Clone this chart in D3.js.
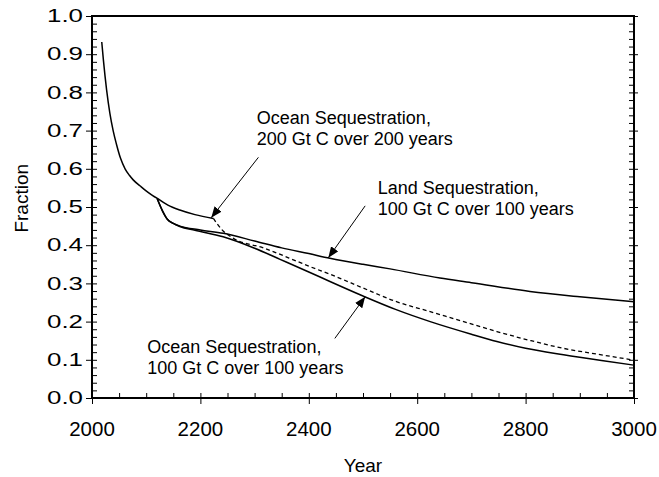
<!DOCTYPE html>
<html>
<head>
<meta charset="utf-8">
<script src="https://cdn.jsdelivr.net/npm/d3@7"></script>
<style>
  html, body { margin: 0; padding: 0; background: #fff; }
  svg { display: block; font-family: "Liberation Sans", Arial, Helvetica, sans-serif; }
</style>
</head>
<body>
<svg id="chart" width="659" height="477"></svg>
<script>
// Shared decline before sequestration branches off
const commonYears = [2018, 2021, 2027, 2033, 2039, 2045, 2053, 2061, 2069, 2076, 2089, 2101, 2112, 2120];
const commonFrac  = [0.932, 0.885, 0.806, 0.745, 0.700, 0.665, 0.626, 0.600, 0.583, 0.571, 0.555, 0.541, 0.530, 0.523];

// Land sequestration, 100 Gt C over 100 years
const landYears = [2120, 2130, 2139, 2150, 2162, 2200, 2242, 2300, 2350, 2400, 2439, 2500, 2550, 2642, 2700, 2808, 2900, 3000];
const landFrac  = [0.523, 0.490, 0.468, 0.457, 0.450, 0.440, 0.431, 0.411, 0.393, 0.378, 0.366, 0.350, 0.338, 0.314, 0.302, 0.279, 0.265, 0.252];

// Ocean sequestration, 100 Gt C over 100 years
const ocean100Years = [2120, 2130, 2139, 2150, 2162, 2190, 2242, 2300, 2347, 2400, 2439, 2500, 2560, 2624, 2700, 2747, 2800, 2870, 2940, 3000];
const ocean100Frac  = [0.523, 0.490, 0.468, 0.457, 0.449, 0.439, 0.422, 0.392, 0.363, 0.330, 0.305, 0.267, 0.232, 0.200, 0.167, 0.148, 0.130, 0.113, 0.098, 0.086];

// Ocean sequestration, 200 Gt C over 200 years (dashed once injection ends)
const ocean200Years = [2120, 2140, 2162, 2190, 2224, 2240, 2261, 2316, 2378, 2402, 2439, 2500, 2560, 2624, 2690, 2747, 2810, 2870, 2940, 3000];
const ocean200Frac  = [0.523, 0.505, 0.492, 0.480, 0.470, 0.440, 0.418, 0.393, 0.358, 0.344, 0.324, 0.288, 0.253, 0.226, 0.198, 0.174, 0.150, 0.130, 0.113, 0.099];
const ocean200DashFrom = 2224;

// Axis ticks
const xTicks = [2000, 2200, 2400, 2600, 2800, 3000];
const yTicks = [0.0, 0.1, 0.2, 0.3, 0.4, 0.5, 0.6, 0.7, 0.8, 0.9, 1.0];

// Annotations: label lines, label anchor, arrow tail and arrow tip (data units)
const notes = [
  { lines: ["Ocean Sequestration,", "200 Gt C over 200 years"], at: [2304, 0.716], tail: [2307, 0.630], tip: [2220, 0.472] },
  { lines: ["Land Sequestration,", "100 Gt C over 100 years"],  at: [2527, 0.534], tail: [2504, 0.503], tip: [2436, 0.367] },
  { lines: ["Ocean Sequestration,", "100 Gt C over 100 years"], at: [2102, 0.118], tail: [2448, 0.156], tip: [2504, 0.265] }
];

const svg = d3.select("#chart");
const x = d3.scaleLinear().domain([2000, 3000]).range([92, 634]);
const y = d3.scaleLinear().domain([0, 1]).range([398, 16]);

const zip = (xs, ys) => xs.map((v, i) => [v, ys[i]]);
const line = d3.line().x(d => x(d[0])).y(d => y(d[1])).curve(d3.curveMonotoneX);

const curves = svg.append("g").attr("fill", "none").attr("stroke", "#000").attr("stroke-width", 1.5);
curves.append("path").attr("d", line(zip(commonYears, commonFrac)));
curves.append("path").attr("d", line(zip(landYears, landFrac)));
curves.append("path").attr("d", line(zip(ocean100Years, ocean100Frac)));
const o200 = zip(ocean200Years, ocean200Frac);
curves.append("path").attr("d", line(o200.filter(d => d[0] <= ocean200DashFrom)));
curves.append("path").attr("stroke-width", 1.3).attr("stroke-dasharray", "4,3")
  .attr("d", line(o200.filter(d => d[0] >= ocean200DashFrom)));

// Axes
function styleAxis(g) {
  g.selectAll(".domain").remove();
  g.selectAll(".tick line").attr("stroke", "#000").attr("stroke-width", 1);
}
// left: majors outward + minors inward
svg.append("g").attr("transform", `translate(${x(2000)},0)`)
  .call(d3.axisLeft(y).tickValues(yTicks).tickSize(6).tickFormat(""))
  .call(styleAxis);
svg.append("g").attr("transform", `translate(${x(2000)},0)`)
  .call(d3.axisRight(y).tickValues(d3.range(0, 1.0001, 0.02)).tickSize(5).tickFormat(""))
  .call(styleAxis);
// right: minors inward + majors outward
svg.append("g").attr("transform", `translate(${x(3000)},0)`)
  .call(d3.axisLeft(y).tickValues(d3.range(0, 1.0001, 0.02)).tickSize(5).tickFormat(""))
  .call(styleAxis);
svg.append("g").attr("transform", `translate(${x(3000)},0)`)
  .call(d3.axisRight(y).tickValues(yTicks).tickSize(4).tickFormat(""))
  .call(styleAxis);
// bottom: majors outward + minors inward
svg.append("g").attr("transform", `translate(0,${y(0)})`)
  .call(d3.axisBottom(x).tickValues(xTicks).tickSize(6).tickFormat(""))
  .call(styleAxis);
svg.append("g").attr("transform", `translate(0,${y(0)})`)
  .call(d3.axisTop(x).tickValues(d3.range(2000, 3001, 50)).tickSize(5).tickFormat(""))
  .call(styleAxis);

// frame
svg.append("rect")
  .attr("x", x(2000)).attr("y", y(1))
  .attr("width", x(3000) - x(2000)).attr("height", y(0) - y(1))
  .attr("fill", "none").attr("stroke", "#000").attr("stroke-width", 2);

// tick labels
svg.append("g").selectAll("text").data(yTicks).join("text")
  .attr("x", x(2000) - 45).attr("y", d => y(d)).attr("dy", "0.35em")
  .attr("textLength", 36).attr("lengthAdjust", "spacingAndGlyphs")
  .attr("font-size", 17.5)
  .text(d => d.toFixed(1));
svg.append("g").selectAll("text").data(xTicks).join("text")
  .attr("x", d => x(d)).attr("y", y(0) + 37.5).attr("text-anchor", "middle")
  .attr("font-size", 20.5)
  .text(d => d);

// axis titles
svg.append("text").attr("transform", `translate(28,${(y(0.43) + y(0.6)) / 2 - 3}) rotate(-90)`)
  .attr("text-anchor", "middle").attr("font-size", 19).text("Fraction");
svg.append("text").attr("x", (x(2000) + x(3000)) / 2).attr("y", 472)
  .attr("text-anchor", "middle").attr("font-size", 19).text("Year");

// arrowheads
svg.append("defs").append("marker")
  .attr("id", "head").attr("viewBox", "0 0 10 8").attr("refX", 10).attr("refY", 4)
  .attr("markerUnits", "userSpaceOnUse").attr("markerWidth", 11).attr("markerHeight", 9)
  .attr("orient", "auto")
  .append("path").attr("d", "M0,0 L10,4 L0,8 Z").attr("fill", "#000");

const ann = svg.append("g");
notes.forEach(n => {
  ann.append("line")
    .attr("x1", x(n.tail[0])).attr("y1", y(n.tail[1]))
    .attr("x2", x(n.tip[0])).attr("y2", y(n.tip[1]))
    .attr("stroke", "#000").attr("stroke-width", 1).attr("marker-end", "url(#head)");
  const t = ann.append("text").attr("font-size", 18);
  n.lines.forEach((s, i) => {
    t.append("tspan").attr("x", x(n.at[0])).attr("y", y(n.at[1]) + i * 21).text(s);
  });
});
</script>
</body>
</html>
